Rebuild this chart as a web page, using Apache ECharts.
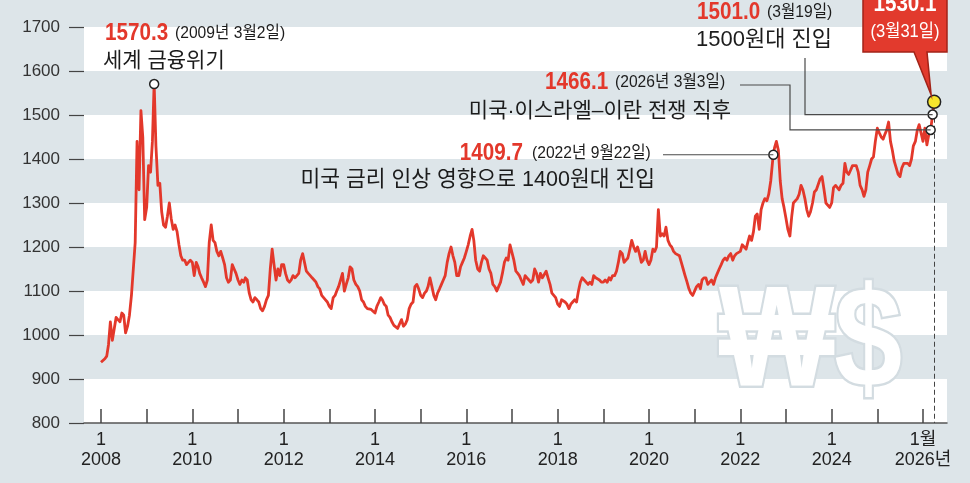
<!DOCTYPE html>
<html><head><meta charset="utf-8">
<script src="https://cdn.jsdelivr.net/npm/echarts@6/dist/echarts.min.js"></script>
<style>html,body{margin:0;padding:0;background:#dde5e9}#c{width:970px;height:483px}</style>
</head><body><div id="c"></div><script>
// ---- data (semi-monthly readings: 1st and 16th of each month) ----
const yAxisMin = 800, yAxisMax = 1700, yAxisStep = 100;
const xTickYears = [2008,2009,2010,2011,2012,2013,2014,2015,2016,2017,2018,2019,2020,2021,2022,2023,2024,2025,2026];
const xLabelYears = [2008,2010,2012,2014,2016,2018,2020,2022,2024,2026];
const lastLabelTop = '1월', lastLabelBottom = '2026년';
const y2008 = [938,942,946,952,978,1030,988,985,1040,1035,1030,1050,1045,1005,1020,1045,1090,1150,1210,1440,1330,1510,1450,1262];
const y2009 = [1290,1385,1370,1440,1565,1430,1340,1345,1280,1250,1245,1270,1300,1265,1240,1250,1235,1205,1180,1170,1170,1160,1165,1170];
const y2010 = [1165,1135,1165,1155,1140,1130,1120,1110,1125,1210,1250,1215,1210,1190,1180,1190,1175,1160,1130,1120,1125,1160,1150,1140];
const y2011 = [1125,1115,1125,1120,1130,1125,1095,1080,1075,1085,1080,1075,1060,1055,1065,1080,1090,1150,1195,1160,1125,1150,1135,1160];
const y2012 = [1160,1140,1125,1120,1125,1135,1130,1135,1140,1170,1185,1165,1145,1140,1135,1130,1125,1120,1110,1105,1090,1085,1080,1075];
const y2013 = [1065,1060,1085,1090,1100,1110,1125,1140,1100,1115,1130,1155,1150,1125,1115,1110,1100,1080,1075,1065,1060,1062,1058,1055];
const y2014 = [1050,1065,1075,1085,1080,1070,1065,1045,1040,1030,1022,1020,1015,1025,1035,1020,1025,1035,1060,1070,1075,1110,1115,1105];
const y2015 = [1090,1085,1095,1100,1110,1130,1110,1090,1080,1095,1105,1115,1125,1135,1165,1185,1200,1180,1165,1135,1135,1155,1165,1175];
const y2016 = [1190,1205,1225,1240,1215,1170,1150,1145,1165,1180,1175,1170,1150,1140,1115,1110,1100,1110,1120,1140,1165,1175,1170,1205];
const y2017 = [1205,1170,1145,1140,1135,1125,1115,1135,1130,1125,1120,1125,1150,1140,1120,1140,1130,1130,1145,1130,1115,1095,1090,1085];
const y2018 = [1070,1065,1080,1080,1075,1070,1060,1070,1075,1080,1075,1100,1120,1130,1125,1125,1115,1120,1115,1135,1130,1130,1125,1120];
const y2019 = [1120,1125,1120,1130,1125,1135,1135,1145,1165,1190,1185,1165,1170,1175,1195,1215,1200,1190,1200,1185,1165,1170,1190,1170];
const y2020 = [1160,1170,1195,1190,1200,1285,1225,1230,1225,1245,1215,1205,1200,1190,1185,1185,1180,1165,1150,1135,1120,1105,1095,1090];
const y2021 = [1090,1110,1115,1105,1125,1130,1130,1115,1120,1125,1115,1130,1140,1150,1160,1170,1175,1170,1180,1185,1170,1180,1185,1185];
const y2022 = [1190,1205,1200,1195,1210,1225,1215,1235,1270,1275,1240,1285,1300,1310,1305,1320,1350,1395,1425,1440,1420,1350,1310,1290];
const y2023 = [1265,1240,1225,1270,1300,1300,1310,1320,1340,1330,1310,1285,1270,1280,1300,1325,1330,1330,1355,1360,1330,1300,1300,1290];
const y2024 = [1300,1335,1340,1335,1330,1340,1345,1390,1370,1365,1375,1385,1385,1385,1370,1340,1330,1315,1330,1370,1385,1400,1405,1440];
const y2025 = [1470,1460,1450,1445,1455,1465,1484,1440,1420,1395,1380,1365,1360,1380,1390,1390,1390,1385,1400,1430,1440,1465,1478,1460];
const y2026 = [1440,1470,1432,1455];
const seriesYears = [2008,2009,2010,2011,2012,2013,2014,2015,2016,2017,2018,2019,2020,2021,2022,2023,2024,2025,2026];
const seriesValues = [y2008,y2009,y2010,y2011,y2012,y2013,y2014,y2015,y2016,y2017,y2018,y2019,y2020,y2021,y2022,y2023,y2024,y2025,y2026];
// annotated points
const noteDates  = ['2009-03-02','2022-09-22','2026-03-03','2026-03-19','2026-03-31'];
const noteValues = [1570.3, 1409.7, 1466.1, 1501.0, 1530.1];
const noteNums   = ['1570.3','1409.7','1466.1','1501.0','1530.1'];
const noteDateTexts = ['(2009년 3월2일)','(2022년 9월22일)','(2026년 3월3일)','(3월19일)','(3월31일)'];
const noteTexts  = ['세계 금융위기','미국 금리 인상 영향으로 1400원대 진입','미국·이스라엘–이란 전쟁 직후','1500원대 진입',''];

// ---- helpers ----
function dyear(Y, M, D){ const t=Date.UTC(Y,M-1,D), t0=Date.UTC(Y,0,1), t1=Date.UTC(Y+1,0,1); return Y+(t-t0)/(t1-t0); }
function dyearStr(s){ const p=s.split('-').map(Number); return dyear(p[0],p[1],p[2]); }
const pts = [];
seriesYears.forEach((Y,k)=>{ seriesValues[k].forEach((v,i)=>{ pts.push([dyear(Y, Math.floor(i/2)+1, i%2?16:1), v]); }); });
noteDates.forEach((d,k)=>pts.push([dyearStr(d), noteValues[k]]));
pts.sort((a,b)=>a[0]-b[0]);
const notePts = noteDates.map((d,k)=>[dyearStr(d), noteValues[k]]);

const FN = '"Liberation Sans","Noto Sans CJK KR",sans-serif';
const RED = '#e3382b';
const X_MIN = 2008 - 17/45.67, X_MAX = 2026 + 24/45.67;

const chart = echarts.init(document.getElementById('c'), null, {renderer:'canvas'});
chart.setOption({
  backgroundColor: '#dde5e9',
  animation: false,
  grid: {left: 84, right: 23, top: 27, bottom: 60},
  xAxis: {
    type: 'value', min: X_MIN, max: X_MAX,
    axisLine: {show: true, lineStyle: {color: '#555', width: 1.5}},
    axisTick: {show: true, inside: true, length: 14, customValues: xTickYears, lineStyle: {color: '#444', width: 1.5}},
    axisLabel: {customValues: xLabelYears, margin: 7, fontSize: 18, lineHeight: 20, color: '#222', fontFamily: FN,
      formatter: v => Math.round(v) === xLabelYears[xLabelYears.length-1] ? lastLabelTop + '\n' + lastLabelBottom : '1\n' + Math.round(v)},
    splitLine: {show: false}
  },
  yAxis: {
    type: 'value', min: yAxisMin, max: yAxisMax, interval: yAxisStep,
    axisLine: {show: false},
    axisTick: {show: true, length: 15, lineStyle: {color: '#444', width: 1.2}},
    axisLabel: {margin: 24, fontSize: 17, color: '#333', fontFamily: FN, formatter: v => String(v)},
    splitLine: {show: false},
    splitArea: {show: true, areaStyle: {color: ['#ffffff', 'rgba(0,0,0,0)']}}
  },
  series: [
    {type: 'line', data: pts, showSymbol: false, z: 4, lineStyle: {color: RED, width: 2.8, join: 'round'},
     markLine: {silent: true, symbol: 'none', label: {show: false}, lineStyle: {color: '#444', width: 1, type: [5, 3]},
       data: [[{coord: [notePts[4][0], noteValues[4]]}, {coord: [notePts[4][0], yAxisMin]}]]}},
    {type: 'scatter', z: 6, data: notePts.slice(0,4), symbolSize: 9,
     itemStyle: {color: '#fff', borderColor: '#222', borderWidth: 1.5, opacity: 1}},
    {type: 'scatter', z: 7, data: [notePts[4]], symbolSize: 13,
     itemStyle: {color: '#f7e52c', borderColor: '#222', borderWidth: 1.5, opacity: 1}}
  ]
});

const P = notePts.map(p => chart.convertToPixel({seriesIndex: 0}, p));
function T(x, y, text, size, color, align, bold, sx){
  return {type: 'text', x: x, y: y, z: 100, scaleX: sx || 1, style: {text: text, fill: color, align: align || 'left', verticalAlign: 'middle',
    font: (bold ? 'bold ' : '') + size + 'px ' + FN}};
}
function L(points){ return {type: 'polyline', z: 90, shape: {points: points}, style: {stroke: '#4a4a4a', lineWidth: 1.2, fill: null}}; }
const DARK = '#1c1c1c';
const NS = 0.86, DS = 0.92;
const g = [
  {type: 'text', x: 719, y: 347, z: 1, scaleX: 0.86, style: {text: '₩$', font: 'bold 142px ' + FN, fill: '#ffffff', stroke: '#d3dce1', lineWidth: 5, strokeFirst: true, verticalAlign: 'middle'}},
  // 1570.3
  T(105, 33, noteNums[0], 24, RED, 'left', true, NS),
  T(175, 33, noteDateTexts[0], 17, DARK, 'left', false, DS),
  T(103, 61, noteTexts[0], 21, DARK),
  // 1409.7
  T(523, 153, noteNums[1], 24, RED, 'right', true, NS),
  T(532, 153, noteDateTexts[1], 17, DARK, 'left', false, DS),
  T(655, 180, noteTexts[1], 21.5, DARK, 'right'),
  L([[663, P[1][1]], [P[1][0], P[1][1]]]),
  // 1466.1
  T(545, 82, noteNums[2], 24, RED, 'left', true, NS),
  T(615, 82, noteDateTexts[2], 17, DARK, 'left', false, DS),
  T(731, 111, noteTexts[2], 21, DARK, 'right'),
  L([[740, 85], [790, 85], [790, P[2][1]], [P[2][0], P[2][1]]]),
  // 1501.0
  T(697, 12, noteNums[3], 24, RED, 'left', true, NS),
  T(767, 12, noteDateTexts[3], 17, DARK, 'left', false, DS),
  T(832, 40, noteTexts[3], 22, DARK, 'right'),
  L([[805, 58], [805, P[3][1]], [P[3][0], P[3][1]]]),
  // callout 1530.1
  {type: 'polygon', z: 95, shape: {points: [[863,-6],[947,-6],[947,52],[927,52],[P[4][0]-3, P[4][1]-7],[914,52],[863,52]]},
   style: {fill: '#e23a2d', stroke: '#a22318', lineWidth: 1.5}},
  {type: 'text', x: 905, y: 4, z: 100, scaleX: NS, style: {text: noteNums[4], fill: '#fff', align: 'center', verticalAlign: 'middle', font: 'bold 24px ' + FN}},
  {type: 'text', x: 905, y: 32, z: 100, scaleX: DS, style: {text: noteDateTexts[4], fill: '#fff', align: 'center', verticalAlign: 'middle', font: '18px ' + FN}}
];
chart.setOption({graphic: g});
</script></body></html>
